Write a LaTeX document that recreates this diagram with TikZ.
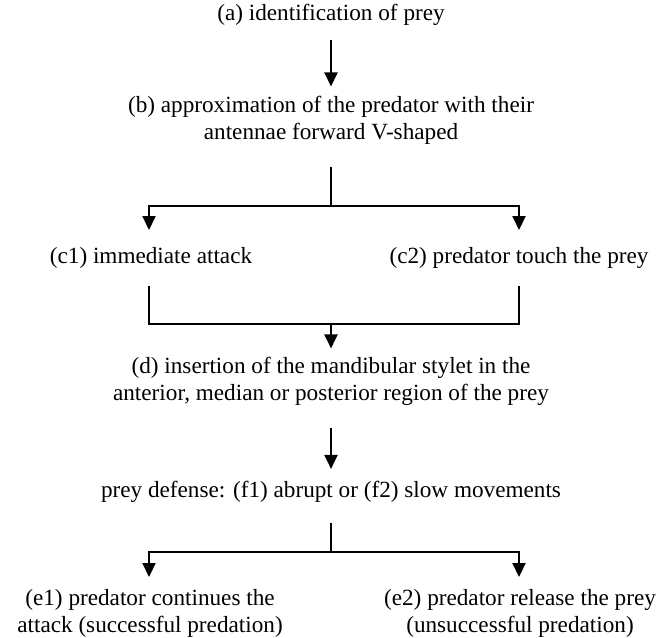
\documentclass[tikz,border=0pt]{standalone}
\usepackage{fontspec}
\setmainfont{Liberation Serif}
\usetikzlibrary{arrows.meta}

\begin{document}
\begin{tikzpicture}[x=0.5pt, y=-0.5pt,
        lbl/.style={inner sep=0pt, align=center, font=\fontsize{11.6}{13.5}\selectfont},
        arr/.style={-{Triangle[width=6.5pt,length=7pt]}, line width=1.1pt},
        ln/.style={line width=1.1pt}]
            \useasboundingbox (0,0) rectangle (658,637);

            \node [lbl] (a) at (331,15) {(a) identification of prey};
            \node [lbl] (b) at (331,120) {(b) approximation of the predator with their\\antennae forward V-shaped};
            \node [lbl] (c1) at (151,258) {(c1) immediate attack};
            \node [lbl] (c2) at (519,258) {(c2) predator touch the prey};
            \node [lbl] (d) at (331,381) {(d) insertion of the mandibular stylet in the\\anterior, median or posterior region of the prey};
            \node [lbl] (f) at (331,492) {prey defense: (f1) abrupt or (f2) slow movements};
            \node [lbl] (e1) at (150,613) {(e1) predator continues the\\attack (successful predation)};
            \node [lbl] (e2) at (520,613) {(e2) predator release the prey\\(unsuccessful predation)};

            \coordinate (bsplit) at (331,206);
            \coordinate (c1in) at (149,230);
            \coordinate (c2in) at (519,230);
            \coordinate (c1out) at (149,286);
            \coordinate (c2out) at (519,286);
            \coordinate (cjoin) at (331,324);
            \coordinate (fsplit) at (331,552);
            \coordinate (e1in) at (149,577);
            \coordinate (e2in) at (519,577);

            \draw [arr, shorten <=7pt, shorten >=4.5pt] (a) -- (b);
            \draw [ln, shorten <=11pt] (b) -- (bsplit);
            \draw [arr] (bsplit) -| (c1in);
            \draw [arr] (bsplit) -| (c2in);
            \draw [ln] (c1out) |- (cjoin) -| (c2out);
            \draw [arr, shorten >=4pt] (cjoin) -- (d);
            \draw [arr, shorten <=11pt, shorten >=6pt] (d) -- (f);
            \draw [ln, shorten <=10pt] (f) -- (fsplit);
            \draw [arr] (fsplit) -| (e1in);
            \draw [arr] (fsplit) -| (e2in);
        \end{tikzpicture}
\end{document}
